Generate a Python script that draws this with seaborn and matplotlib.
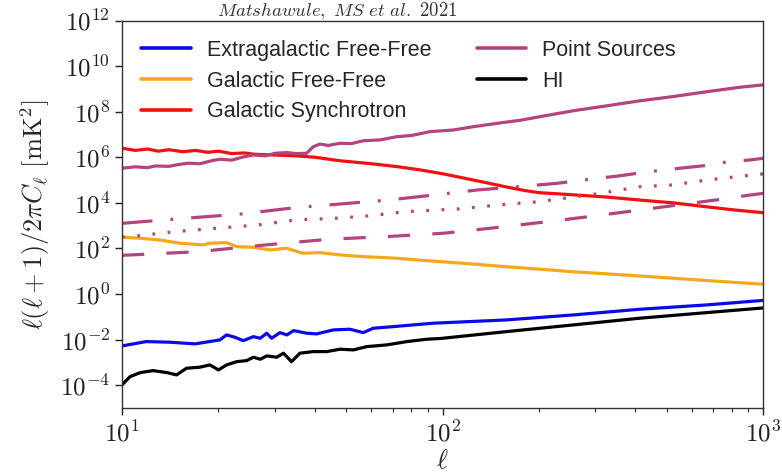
import math
import matplotlib
matplotlib.use("Agg")
import matplotlib.pyplot as plt
import seaborn as sns
import pandas as pd
from matplotlib.ticker import FixedLocator, NullLocator, LogLocator, FuncFormatter

# ---------------- data ----------------
ext_ff_ell = [10, 11.9, 14.1, 16.9, 20.2, 21.2, 22.5, 23.9, 25.7, 27, 28.3, 29.3, 31.1, 32.7,
              34.3, 37.7, 40.5, 45.6, 51.4, 56.6, 60.8, 70.2, 81, 93.6, 158, 256, 413, 667, 1000]
ext_ff_val = [5.3e-3, 8.2e-3, 7.7e-3, 6.5e-3, 9.7e-3, 1.61e-2, 1.27e-2, 9.0e-3, 1.35e-2, 1.15e-2,
              1.91e-2, 1.15e-2, 2.03e-2, 1.61e-2, 2.48e-2, 1.91e-2, 1.78e-2, 2.66e-2, 2.86e-2,
              2.03e-2, 3.16e-2, 3.72e-2, 4.42e-2, 5.25e-2, 7.3e-2, 0.121, 0.215, 0.333, 0.525]

gal_ff_ell = [10, 11.4, 13.1, 15.2, 17.9, 18.8, 21.2, 22.8, 25.6, 29, 32.6, 36.7, 41.5, 47.9,
              56.5, 72, 91.4, 116, 158, 216, 256, 413, 667, 1000]
gal_ff_val = [310, 280, 236, 169, 143, 169, 180, 120, 113, 86, 102, 61.5, 65.5, 51.9, 43.7,
              37.2, 28.2, 22.4, 15.8, 11.4, 9.5, 6.2, 3.9, 2.7]

sync_ell = [10, 11, 12, 13, 14, 15.5, 17, 18.5, 20, 22, 24, 26, 30, 35, 40, 48, 60, 72, 85,
            100, 116, 135, 158, 180, 200, 250, 325, 420, 524, 650, 800, 1000]
sync_val = [2.5e6, 2.0e6, 2.3e6, 1.85e6, 2.15e6, 1.75e6, 2.0e6, 1.65e6, 1.85e6, 1.45e6, 1.55e6,
            1.35e6, 1.25e6, 1.15e6, 1.0e6, 7.0e5, 5.2e5, 3.9e5, 2.8e5, 1.9e5, 1.24e5, 8.0e4,
            5.0e4, 3.5e4, 2.8e4, 2.3e4, 1.8e4, 1.3e4, 1.0e4, 7.0e3, 5.0e3, 3.7e3]

ps_ell = [10, 11, 12, 12.7, 14, 15, 16.1, 17.5, 19, 20.2, 22, 24, 25.7, 28, 30, 32.7, 35, 37.7,
          39.5, 41.5, 44, 47.9, 52, 56.6, 64, 72, 80, 91.4, 108, 125, 151, 175, 201, 256, 325,
          413, 524, 667, 848, 1000]
ps_val = [3.3e5, 3.8e5, 3.5e5, 4.15e5, 4.0e5, 4.8e5, 5.5e5, 5.2e5, 7.0e5, 8.2e5, 7.5e5, 1.05e6,
          1.26e6, 1.15e6, 1.5e6, 1.6e6, 1.45e6, 1.5e6, 2.9e6, 3.8e6, 3.3e6, 4.1e6, 4.0e6, 5.3e6,
          5.8e6, 8.0e6, 9.0e6, 1.33e7, 1.57e7, 2.2e7, 3.2e7, 4.2e7, 6.0e7, 1.1e8, 1.8e8, 3.0e8,
          4.6e8, 7.5e8, 1.18e9, 1.5e9]

ps_dashdot_ell = [10, 10.6, 15.7, 23.3, 34.2, 47.9, 68.6, 94.9, 129, 172, 228, 289, 353, 438,
                  550, 659, 783, 910, 1000]
ps_dashdot_val = [1.26e3, 1.35e3, 2.1e3, 3.2e3, 6.0e3, 8.9e3, 1.35e4, 2.24e4, 3.7e4, 5.1e4,
                  7.2e4, 1.1e5, 1.5e5, 2.3e5, 3.3e5, 4.3e5, 6.5e5, 7.6e5, 9.0e5]

ps_dotted_ell = [10, 10.7, 14.6, 19.7, 26.5, 34.9, 46.2, 58.5, 76.4, 111.5, 150, 199, 310, 413,
                 524, 667, 964, 1000]
ps_dotted_val = [316, 330, 546, 769, 1.07e3, 1.78e3, 2.11e3, 2.66e3, 4.1e3, 5.4e3, 8.1e3,
                 1.12e4, 2.6e4, 5.1e4, 6.1e4, 1.0e5, 1.78e5, 1.86e5]

ps_dashed_ell = [10, 10.67, 17.3, 28.1, 44.3, 66.7, 101, 146, 209, 284, 377, 495, 592, 745,
                 910, 1000]
ps_dashed_val = [50, 52, 72, 143, 254, 330, 465, 813, 1.45e3, 2.45e3, 4.1e3, 6.8e3, 9.5e3,
                 1.45e4, 2.2e4, 2.6e4]

hi_ell = [10, 10.6, 11.4, 12.5, 13.8, 14.8, 15.9, 17.5, 18.8, 20, 21.2, 22.8, 24.5, 25.7, 27,
          28.3, 30.4, 31.9, 33.8, 35.9, 39.5, 43.5, 47.9, 52.7, 58, 67, 77.3, 89.3, 98.5, 158,
          256, 413, 667, 1000]
hi_val = [1.03e-4, 2.38e-4, 3.57e-4, 4.37e-4, 3.57e-4, 2.83e-4, 5.57e-4, 6.17e-4, 7.76e-4,
          4.68e-4, 7.76e-4, 1.08e-3, 1.2e-3, 1.69e-3, 1.38e-3, 1.93e-3, 1.69e-3, 2.54e-3,
          1.08e-3, 2.54e-3, 2.98e-3, 2.98e-3, 3.79e-3, 3.53e-3, 4.93e-3, 5.86e-3, 8.17e-3,
          1.04e-2, 1.12e-2, 2.24e-2, 4.42e-2, 8.7e-2, 0.153, 0.245]

labels = ["Extragalactic Free-Free", "Galactic Free-Free", "Galactic Synchrotron",
          "Point Sources", "HI"]
x_ticks = [10, 100, 1000]
y_ticks = [1e-4, 1e-2, 1e0, 1e2, 1e4, 1e6, 1e8, 1e10, 1e12]
annotation = r"$\mathit{Matshawule,\ MS\ et\ al.\ 2021}$"

# ---------------- style ----------------
sns.set_style("ticks")
plt.rcParams["font.family"] = ["Liberation Sans", "DejaVu Sans"]
plt.rcParams["mathtext.fontset"] = "cm"
plt.rcParams["lines.scale_dashes"] = False

C_BLUE = "#0a0ae6"
C_ORANGE = "#f6a81c"
C_RED = "#f01010"
C_PINK = "#b4437f"
C_BLACK = "#000000"
LW = 2.3

fig = plt.figure(figsize=(7.82, 4.75), dpi=100)
ax = fig.add_axes([122 / 782, 1 - 408 / 475, (763 - 122) / 782, (408 - 20.5) / 475])
ax.set_xscale("log")
ax.set_yscale("log")


def draw(ell, val, color, label=None, ls="-"):
    df = pd.DataFrame({"ell": ell, "val": val})
    sns.lineplot(data=df, x="ell", y="val", color=color, lw=LW, ax=ax,
                 estimator=None, label=label, linestyle=ls, legend=False)
    return ax.lines[-1]


h_ext = draw(ext_ff_ell, ext_ff_val, C_BLUE, labels[0])
h_hi = draw(hi_ell, hi_val, C_BLACK, labels[4])
h_gff = draw(gal_ff_ell, gal_ff_val, C_ORANGE, labels[1])
h_sync = draw(sync_ell, sync_val, C_RED, labels[2])
h_ps = draw(ps_ell, ps_val, C_PINK, labels[3])
draw(ps_dashdot_ell, ps_dashdot_val, C_PINK, None, (0, (22, 13, 2, 13)))
draw(ps_dotted_ell, ps_dotted_val, C_PINK, None, (0, (2, 9)))
draw(ps_dashed_ell, ps_dashed_val, C_PINK, None, (0, (16, 16)))


def pow10(v, pos):
    return r"$10^{%d}$" % int(round(math.log10(v)))


ax.set_xlim(10, 1000)
ax.set_ylim(1e-5, 1e12)
ax.xaxis.set_major_locator(FixedLocator(x_ticks))
ax.xaxis.set_minor_locator(LogLocator(base=10, subs=range(2, 10)))
ax.xaxis.set_major_formatter(FuncFormatter(pow10))
ax.xaxis.set_minor_formatter(FuncFormatter(lambda v, p: ""))
ax.yaxis.set_major_locator(FixedLocator(y_ticks))
ax.yaxis.set_minor_locator(NullLocator())
ax.yaxis.set_major_formatter(FuncFormatter(pow10))
ax.tick_params(axis="both", which="major", direction="out", length=5, width=1,
               labelsize=18, colors="#222222")
ax.tick_params(axis="x", which="minor", direction="out", length=3, width=0.8, colors="#222222")
ax.tick_params(axis="x", which="major", pad=4)
for s in ax.spines.values():
    s.set_visible(True)
    s.set_linewidth(1.0)
    s.set_color("#333333")

ax.set_xlabel(r"$\ell$", fontsize=19, labelpad=2)
ax.set_ylabel(r"$\ell(\ell+1)/2\pi C_\ell\ [\mathrm{mK}^2]$", fontsize=19, labelpad=6)

leg = ax.legend([h_ext, h_gff, h_sync, h_ps, h_hi], labels, ncol=2, loc="upper left",
                frameon=False, fontsize=15.5, handlelength=2.3, handletextpad=0.75,
                columnspacing=2.1, labelspacing=0.45, borderaxespad=0.5)
for line in leg.get_lines():
    line.set_linewidth(2.6)

fig.text(0.431, 1 - 16 / 475, annotation, ha="center", va="baseline", fontsize=13.5,
         color="#333333")

fig.savefig("out.png", dpi=100)
